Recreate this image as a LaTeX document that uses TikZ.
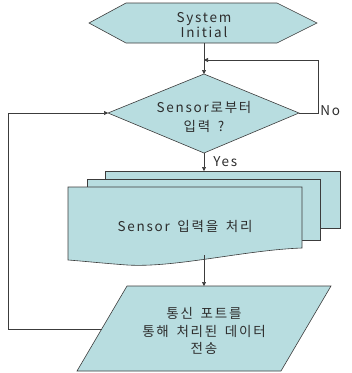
\documentclass[tikz,border=0pt]{standalone}
\usepackage{fontspec}
\setmainfont{Noto Sans CJK KR}[LetterSpace=13,WordSpace=1.6]
\usetikzlibrary{arrows.meta}
\definecolor{fc}{RGB}{184,221,224}
\definecolor{lc}{RGB}{60,60,60}
\definecolor{tc}{RGB}{45,45,45}
\begin{document}
\begin{tikzpicture}[x=1pt,y=-1pt,line width=0.6pt,
  shp/.style={draw=lc,fill=fc,line join=miter},
  conn/.style={draw=lc,-{Triangle[length=4pt,width=4pt]}},
  txt/.style={text=tc,font=\fontsize{13.5}{17}\selectfont,align=center,inner sep=0pt}]
\useasboundingbox (0,0) rectangle (352,373);
\clip (0,0) rectangle (352,373);
% coordinates
\coordinate (hexB) at (204,43);
\coordinate (J) at (204,60);
\coordinate (decT) at (204,74);
\coordinate (decR) at (299,113);
\coordinate (decB) at (204,153);
\coordinate (decL) at (108,113);
\coordinate (noA) at (318,113);
\coordinate (noB) at (318,60);
\coordinate (docT) at (204,171);
\coordinate (docB) at (204,255);
\coordinate (parT) at (204,286);
\coordinate (parL) at (102,329);
\coordinate (lpA) at (8,329);
\coordinate (lpB) at (8,113);
% hexagon
\draw[shp] (89,23) -- (126,3) -- (277,3) -- (317,23) -- (277,43) -- (126,43) -- cycle;
\node[txt,font=\fontsize{13.5}{15}\selectfont] (start) at (204,25) {System\\Initial};
% decision
\draw[shp] (decT) -- (decR) -- (decB) -- (decL) -- cycle;
\node[txt,font=\fontsize{13.5}{19}\selectfont] (dec) at (204,117) {Sensor로부터\\입력 ?};
% multi document
\draw[shp] (105,171) rectangle (340,228);
\draw[shp] (87,179) rectangle (320,240);
\draw[shp] (68,187) -- (302,187) -- (302,248)
  .. controls (245,250) and (175,268) .. (127,265)
  .. controls (100,263) and (82,261) .. (68,260) -- cycle;
\node[txt] (proc) at (185,226) {Sensor 입력을 처리};
% parallelogram
\draw[shp] (127,286) -- (331,286) -- (281,371) -- (77,371) -- cycle;
\node[txt,font=\fontsize{13.5}{17.5}\selectfont] (io) at (204,331) {통신 포트를\\통해 처리된 데이터\\전송};
% connectors
\draw[conn] (hexB) -- (decT);
\draw[conn] (decR) -- (noA) -- (noB) -- (J);
\draw[conn] (decB) -- (docT);
\draw[conn] (docB) -- (parT);
\draw[conn] (parL) -- (lpA) -- (lpB) -- (decL);
% labels
\node[txt,anchor=west] (no) at (320,111) {No};
\node[txt,anchor=west] (yes) at (213,162) {Yes};
\end{tikzpicture}
\end{document}
